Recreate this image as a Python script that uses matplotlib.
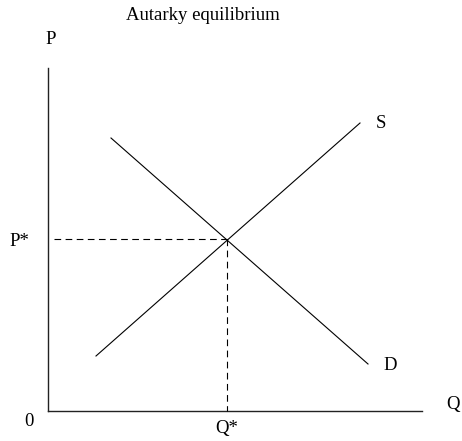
import matplotlib
matplotlib.use("Agg")
import matplotlib.pyplot as plt

# curve endpoints (quantity, price) in diagram units, origin at axis corner
supply_q = [48, 312]
supply_p = [55, 288]
demand_q = [63, 320]
demand_p = [273, 47]
eq_q = 179
eq_p = 172
axis_q_max = 374
axis_p_max = 343

plt.rcParams['font.family'] = ['Liberation Serif', 'DejaVu Serif']
fs = 13.5

fig = plt.figure(figsize=(4.62, 4.41), dpi=100)
ax = fig.add_axes([0, 0, 1, 1])
ax.set_xlim(-48, 414)
ax.set_ylim(-30, 411)
ax.axis('off')

# axes
ax.plot([0, 0], [0, axis_p_max], color='#222222', lw=1.0)
ax.plot([0, axis_q_max], [0, 0], color='#222222', lw=1.0)

# supply and demand
ax.plot(supply_q, supply_p, color='black', lw=0.8)
ax.plot(demand_q, demand_p, color='black', lw=0.8)

# equilibrium guides
ax.plot([6, eq_q], [eq_p, eq_p], color='black', lw=0.8, linestyle=(0, (6, 4)))
ax.plot([eq_q, eq_q], [eq_p, 0], color='black', lw=0.8, linestyle=(0, (6, 4)))

ax.text(155, 396, "Autarky equilibrium", ha='center', va='center', fontsize=fs)
ax.text(3, 372, "P", ha='center', va='center', fontsize=fs)
ax.text(405, 6, "Q", ha='center', va='center', fontsize=fs)
ax.text(-19, -11, "0", ha='center', va='center', fontsize=fs)
ax.text(eq_q, -18, "Q*", ha='center', va='center', fontsize=fs)
ax.text(-29, 169, "P*", ha='center', va='center', fontsize=fs)
ax.text(333, 287, "S", ha='center', va='center', fontsize=fs)
ax.text(342, 45, "D", ha='center', va='center', fontsize=fs)

fig.savefig("out.png", dpi=100)
